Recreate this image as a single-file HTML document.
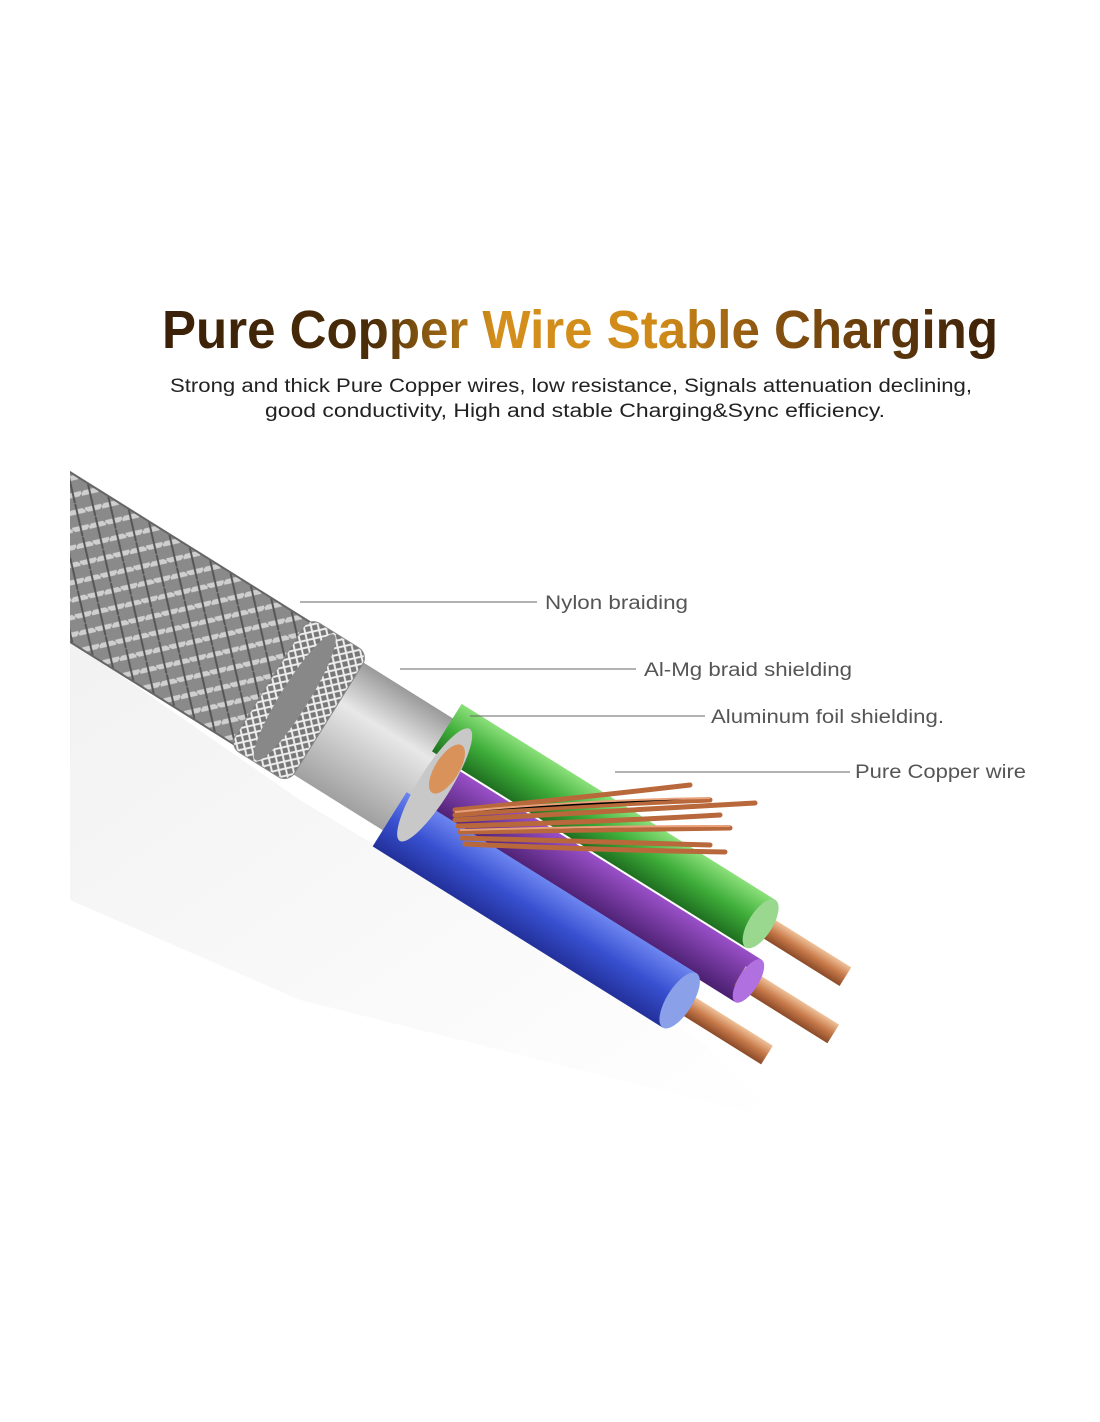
<!DOCTYPE html>
<html><head><meta charset="utf-8"><style>
html,body{margin:0;padding:0;background:#fff;}
svg{display:block;}
</style></head><body>
<svg width="1100" height="1422" viewBox="0 0 1100 1422" xmlns="http://www.w3.org/2000/svg">
<defs>
<linearGradient id="tg" x1="0" x2="1" y1="0" y2="0">
<stop offset="0" stop-color="#3b2008"/><stop offset="0.25" stop-color="#4a2c08"/>
<stop offset="0.4" stop-color="#d48f1c"/><stop offset="0.6" stop-color="#d08a18"/>
<stop offset="0.72" stop-color="#8a5410"/><stop offset="1" stop-color="#3b2008"/>
</linearGradient>
<pattern id="braid" width="24" height="24" patternUnits="userSpaceOnUse">
<rect width="24" height="24" fill="#8a8a8a"/>
<path d="M0 12 L12 0 M12 24 L24 12" stroke="#cfcfcf" stroke-width="5"/>
<path d="M0 0 L24 24" stroke="#555" stroke-width="2"/>
</pattern>
<pattern id="mesh" width="10" height="10" patternUnits="userSpaceOnUse">
<rect width="10" height="10" fill="#777"/>
<path d="M0 0 L10 10 M10 0 L0 10" stroke="#eee" stroke-width="2"/>
</pattern>
<linearGradient id="foil" x1="0" x2="0" y1="0" y2="1">
<stop offset="0" stop-color="#9a9a9a"/><stop offset="0.35" stop-color="#e8e8e8"/><stop offset="1" stop-color="#a0a0a0"/>
</linearGradient>
<linearGradient id="gr" x1="0" x2="0" y1="0" y2="1"><stop offset="0" stop-color="#8be07a"/><stop offset="0.5" stop-color="#3fae3a"/><stop offset="1" stop-color="#1f6f20"/></linearGradient>
<linearGradient id="bl" x1="0" x2="0" y1="0" y2="1"><stop offset="0" stop-color="#6e86f0"/><stop offset="0.5" stop-color="#3850d0"/><stop offset="1" stop-color="#22309a"/></linearGradient>
<linearGradient id="pu" x1="0" x2="0" y1="0" y2="1"><stop offset="0" stop-color="#9a50c8"/><stop offset="1" stop-color="#4a1f70"/></linearGradient>
<linearGradient id="cu" x1="0" x2="0" y1="0" y2="1"><stop offset="0" stop-color="#f0c29a"/><stop offset="0.5" stop-color="#c87a4a"/><stop offset="1" stop-color="#8a4a28"/></linearGradient>
<linearGradient id="shadow" x1="0" x2="1" y1="0" y2="1"><stop offset="0" stop-color="#ececec"/><stop offset="1" stop-color="#fff"/></linearGradient>
<clipPath id="cl"><rect x="70" y="0" width="1030" height="1422"/></clipPath>
</defs>
<rect width="1100" height="1422" fill="#fff"/>
<text x="580" y="348" text-anchor="middle" font-family="'Liberation Sans',sans-serif" font-weight="bold" font-size="54" textLength="836" lengthAdjust="spacingAndGlyphs" fill="url(#tg)">Pure Copper Wire  Stable Charging</text>
<text x="571" y="392" text-anchor="middle" font-family="'Liberation Sans',sans-serif" font-size="19" fill="#222" textLength="802" lengthAdjust="spacingAndGlyphs">Strong and thick Pure Copper wires, low resistance, Signals attenuation declining,</text>
<text x="575" y="417" text-anchor="middle" font-family="'Liberation Sans',sans-serif" font-size="19" fill="#222" textLength="620" lengthAdjust="spacingAndGlyphs">good conductivity, High and stable Charging&amp;Sync efficiency.</text>

<g clip-path="url(#cl)">
<polygon points="70,640 70,900 300,1000 780,1120 700,1040 300,800" fill="url(#shadow)" opacity="0.7"/>
<g transform="translate(70,557) rotate(32)">
<rect x="-60" y="-72" width="325" height="144" fill="url(#braid)"/>
<rect x="-60" y="-72" width="325" height="144" fill="none" stroke="#666" stroke-width="2"/>
<rect x="280" y="-66" width="150" height="132" fill="url(#foil)"/>
<rect x="235" y="-76" width="70" height="152" rx="12" fill="url(#mesh)" stroke="#888"/>
<ellipse cx="265" cy="0" rx="14" ry="74" fill="#888"/>
<rect x="420" y="-25" width="380" height="50" fill="url(#pu)"/>
<rect x="790" y="-11" width="110" height="22" fill="url(#cu)"/>
<ellipse cx="800" cy="0" rx="10" ry="25" fill="#b070e0"/>
<rect x="410" y="-83" width="370" height="56" fill="url(#gr)"/>
<rect x="770" y="-66" width="110" height="22" fill="url(#cu)"/>
<ellipse cx="780" cy="-55" rx="12" ry="28" fill="#9ad890"/>
<rect x="410" y="21" width="342" height="64" fill="url(#bl)"/>
<rect x="745" y="42" width="110" height="22" fill="url(#cu)"/>
<ellipse cx="752" cy="53" rx="13" ry="32" fill="#8aa0e8"/>
<ellipse cx="430" cy="0" rx="16" ry="66" fill="#c8c8c8"/>
<ellipse cx="432" cy="-20" rx="12" ry="28" fill="#d9925a"/>
</g>
</g>
<g stroke="#b8683a" stroke-width="5" stroke-linecap="round">
<path d="M455 810 Q560 800 690 785"/>
<path d="M455 815 Q580 805 710 800"/>
<path d="M455 820 Q600 812 755 803"/>
<path d="M458 826 Q600 822 720 815"/>
<path d="M460 832 Q600 830 730 828"/>
<path d="M462 838 Q600 842 710 845"/>
<path d="M465 844 Q600 850 725 852"/>
</g>
<g stroke="#e8a07a" stroke-width="2">
<path d="M455 812 Q580 800 710 798"/>
<path d="M460 830 Q600 826 730 826"/>
</g>

<g stroke="#666" stroke-width="1">
<line x1="300" y1="602" x2="537" y2="602"/>
<line x1="400" y1="669" x2="636" y2="669"/>
<line x1="470" y1="716" x2="705" y2="716"/>
<line x1="615" y1="772" x2="850" y2="772"/>
</g>
<g font-family="'Liberation Sans',sans-serif" font-size="19" fill="#555">
<text x="545" y="609" textLength="143" lengthAdjust="spacingAndGlyphs">Nylon braiding</text>
<text x="644" y="676" textLength="208" lengthAdjust="spacingAndGlyphs">Al-Mg braid shielding</text>
<text x="711" y="723" textLength="233" lengthAdjust="spacingAndGlyphs">Aluminum foil shielding.</text>
<text x="855" y="778" textLength="171" lengthAdjust="spacingAndGlyphs">Pure Copper wire</text>
</g>
</svg>
</body></html>
